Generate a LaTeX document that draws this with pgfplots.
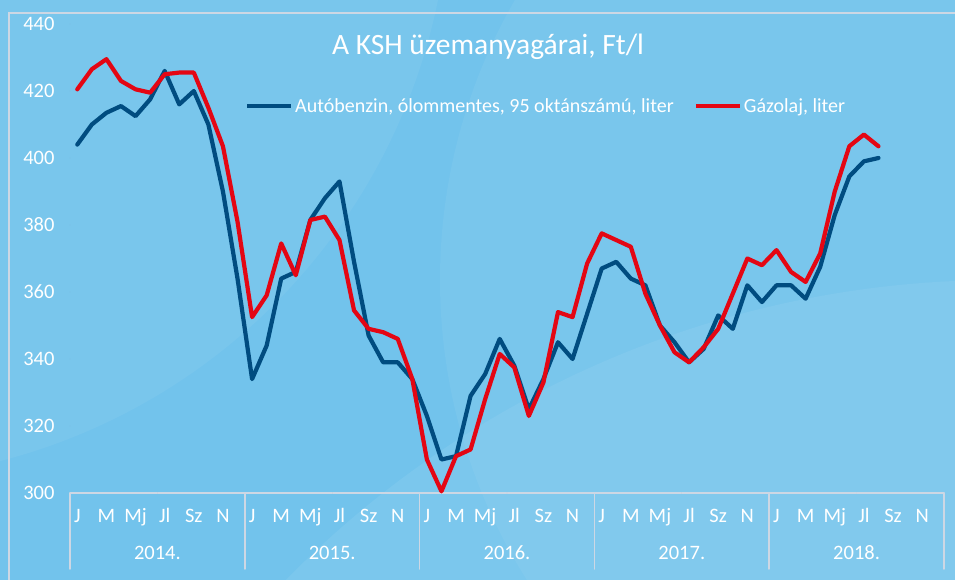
\documentclass[border=0pt]{standalone}
\usepackage{pgfplots}
\pgfplotsset{compat=1.18}
\usepackage{fontspec}
\setmainfont{Carlito}
\definecolor{bgcol}{RGB}{114,195,236}
\definecolor{bluel}{RGB}{0,76,128}
\definecolor{redl}{RGB}{228,6,19}
\definecolor{sepcol}{RGB}{205,215,228}
\begin{document}
\begin{tikzpicture}
\useasboundingbox (0bp,0bp) rectangle (955bp,580bp);
\fill[bgcol] (0bp,0bp) rectangle (955bp,580bp);
\begin{scope}
\clip (0bp,0bp) rectangle (955bp,580bp);
\fill[white,opacity=0.07] (1000bp,-700bp) circle (1000bp);
\fill[white,opacity=0.05] (1000bp,300bp) circle (560bp);
\fill[white,opacity=0.05] (-150bp,700bp) circle (600bp);
\end{scope}
\draw[sepcol,line width=1.5bp] (9bp,-10bp) rectangle (975bp,567bp);
\begin{axis}[
  at={(70bp,87bp)}, anchor=south west,
  scale only axis, width=874bp, height=469bp,
  xmin=-0.5, xmax=59.5, ymin=300, ymax=440,
  clip=false,
  axis x line=bottom, axis y line=left,
  x axis line style={draw=sepcol,line width=1.5bp,-},
  y axis line style={draw=none},
  major tick length=0pt,
  ytick={300,320,...,440},
  xtick={0,2,...,58},
  xticklabels={J,M,Mj,Jl,Sz,N,J,M,Mj,Jl,Sz,N,J,M,Mj,Jl,Sz,N,J,M,Mj,Jl,Sz,N,J,M,Mj,Jl,Sz,N},
  extra x ticks={5.5,17.5,29.5,41.5,53.5},
  extra x tick labels={2014.,2015.,2016.,2017.,2018.},
  extra x tick style={major tick length=0pt, tick label style={yshift=-37bp}},
  /pgf/number format/assume math mode=true,
  ticklabel style={font=\fontsize{20.5bp}{24bp}\selectfont, text=white},
  yticklabel style={xshift=-12bp},
  xticklabel style={anchor=mid, yshift=-27bp},
  legend columns=2,
  legend style={draw=none, fill=none, inner sep=0pt, at={(rel axis cs:0.2,0.825)}, anchor=west,
    font=\fontsize{20bp}{24bp}\selectfont, text=white,
    /tikz/every even column/.append style={column sep=18bp}},
  legend image code/.code={\draw[#1] (0bp,0bp) -- (44bp,0bp);},
  line join=round, line cap=round,
]
\pgfplotsinvokeforeach{-0.5,11.5,23.5,35.5,47.5,59.5}{
  \draw[sepcol,line width=1.5bp] (axis cs:#1,300) -- ([yshift=-76bp]axis cs:#1,300);
}
\addplot[bluel, line width=4.2bp] coordinates {
(0,404) (1,410) (2,413.5) (3,415.5) (4,412.5) (5,417.5) (6,426) (7,416) (8,420) (9,410)
(10,390) (11,364) (12,334) (13,344) (14,364) (15,366) (16,381.5) (17,388) (18,393) (19,369)
(20,347) (21,339) (22,339) (23,334) (24,323) (25,310) (26,311) (27,329) (28,335.5) (29,346)
(30,338) (31,325) (32,334) (33,345) (34,340) (35,353.5) (36,367) (37,369) (38,364) (39,362)
(40,350) (41,345) (42,339) (43,343) (44,353) (45,349) (46,362) (47,357) (48,362) (49,362)
(50,358) (51,367.5) (52,383) (53,394.5) (54,399) (55,400)
};
\addlegendentry{Autóbenzin, ólommentes, 95 oktánszámú, liter}
\addplot[redl, line width=4.2bp] coordinates {
(0,420.5) (1,426.5) (2,429.5) (3,423) (4,420.5) (5,419.5) (6,425) (7,425.5) (8,425.5) (9,415)
(10,403.5) (11,381) (12,352.5) (13,359) (14,374.5) (15,365) (16,381.5) (17,382.5) (18,375.5) (19,354.5)
(20,349) (21,348) (22,346) (23,334) (24,310) (25,300.5) (26,311) (27,313) (28,328) (29,341.5)
(30,337.5) (31,323) (32,333) (33,354) (34,352.5) (35,368.5) (36,377.5) (37,375.5) (38,373.5) (39,359.5)
(40,350) (41,342) (42,339) (43,343.5) (44,349) (45,359.5) (46,370) (47,368) (48,372.5) (49,366)
(50,363) (51,371.5) (52,390) (53,403.5) (54,407) (55,403.5)
};
\addlegendentry{Gázolaj, liter}
\end{axis}
\node[text=white, font=\fontsize{29.5bp}{34bp}\selectfont] at (488bp,533bp) {A KSH üzemanyagárai, Ft/l};
\end{tikzpicture}
\end{document}
